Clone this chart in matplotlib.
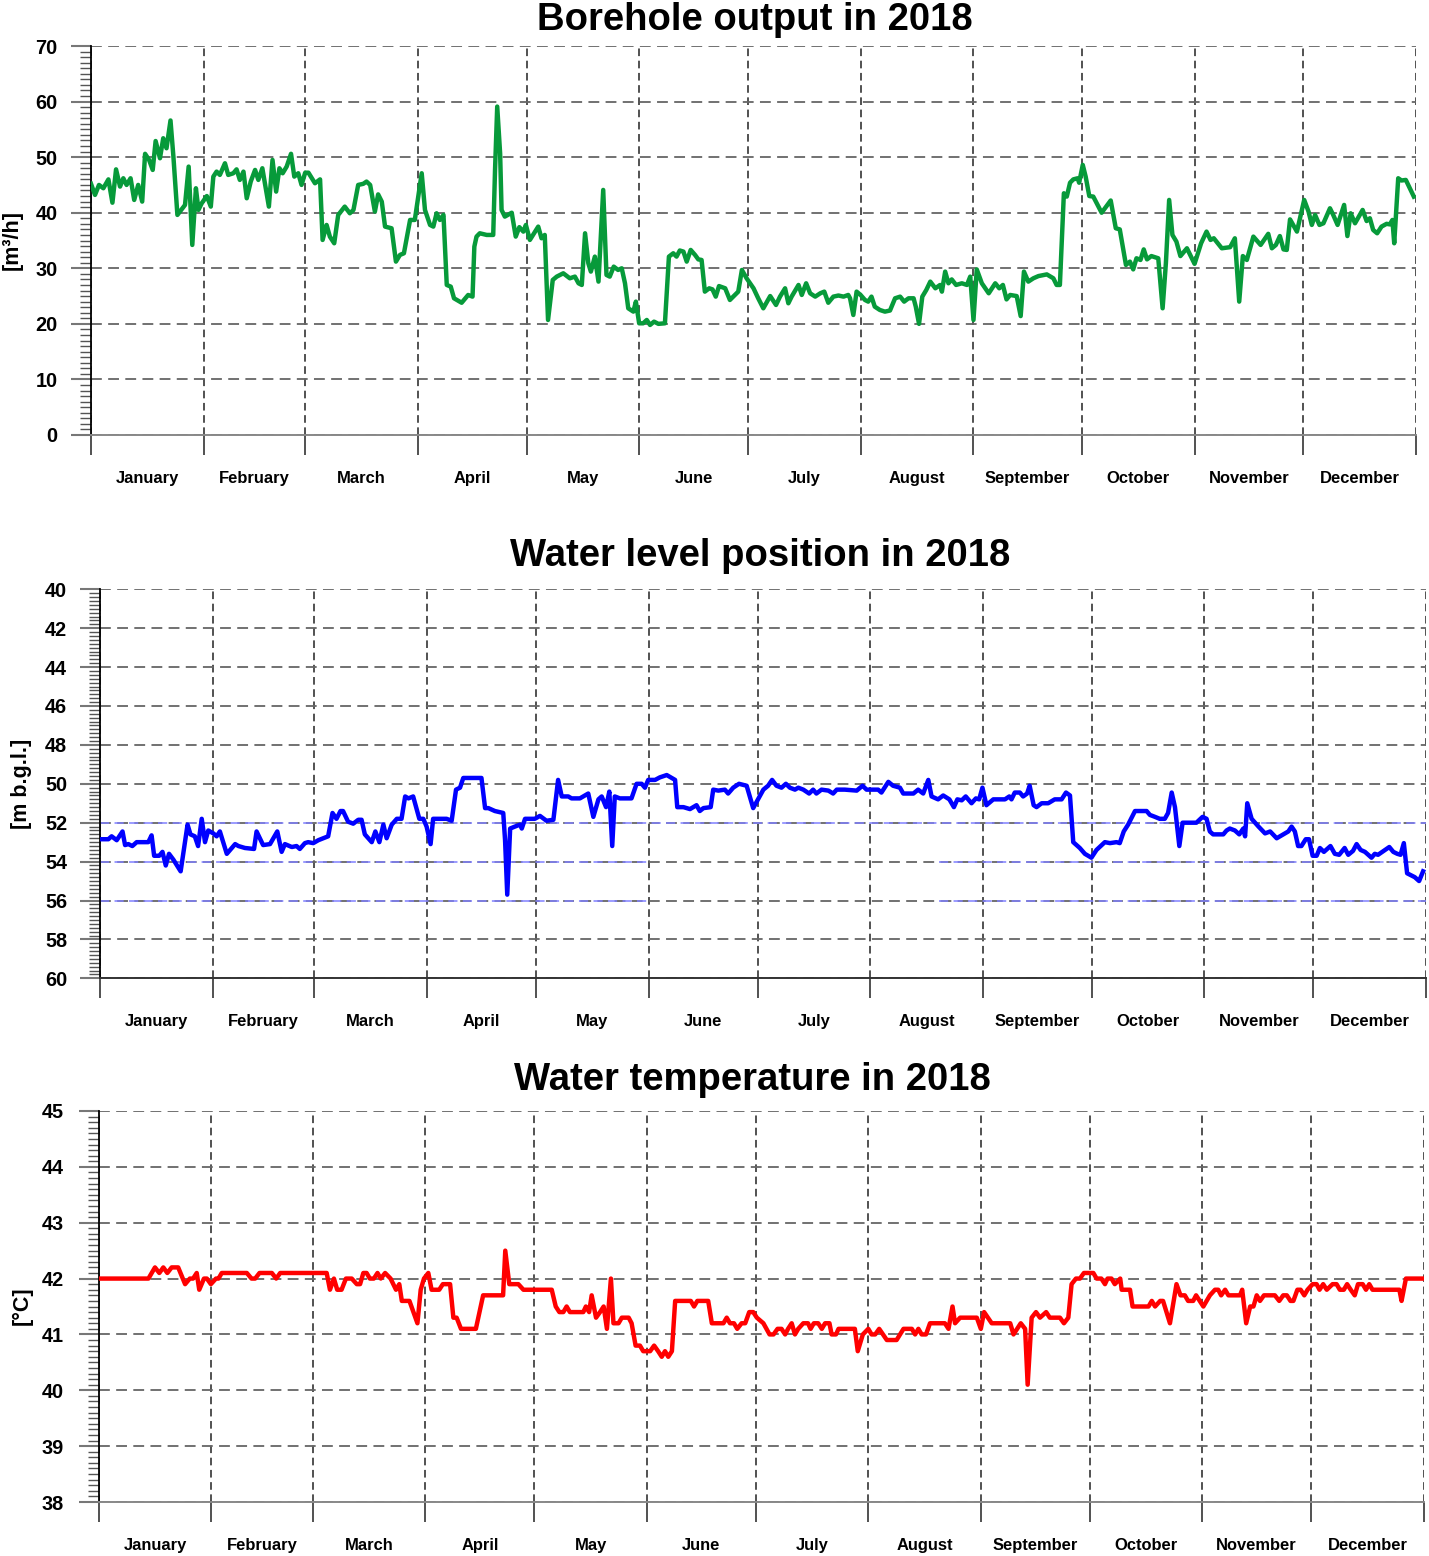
import numpy as np
import matplotlib
matplotlib.use('Agg')
import matplotlib.pyplot as plt
from matplotlib.ticker import MultipleLocator

plt.rcParams['font.family'] = ['Liberation Sans', 'DejaVu Sans']
plt.rcParams['font.weight'] = 'bold'

# ---------------- data ----------------
months = ['January', 'February', 'March', 'April', 'May', 'June', 'July',
          'August', 'September', 'October', 'November', 'December']
month_days = [31, 28, 31, 30, 31, 30, 31, 31, 30, 31, 30, 31]

# Borehole output [m3/h] (day of year, value)
output_day = [0, 1.1, 2.2, 3.4, 4.8, 5.9, 6.9, 8, 8.9, 9.8, 10.9, 11.9, 13, 14.1, 14.9, 16, 17, 17.8, 19, 19.9,
              20.8, 21.9, 22.7, 23.8, 25.9, 26.9, 27.9, 28.9, 29.6, 30.5, 31.9, 33, 33.7, 34.6, 35.5, 36.9, 37.8,
              39.2, 40.1, 41, 42, 42.9, 44, 45.2, 46.1, 47.2, 47.9, 49, 50, 51, 51.9, 52.8, 53.9, 55.1, 56, 57.1,
              58, 59, 59.9, 61.7, 63.1, 63.8, 64.9, 65.8, 67, 68.1, 69.9, 71.3, 72.3, 73.6, 75, 75.9, 76.9, 78.2,
              79.1, 80.1, 81, 82.8, 84, 85.1, 86.2, 87.9, 89.2, 91.1, 92, 93.4, 94.3, 95.2, 96.1, 97.1, 98, 99.1,
              100, 102.1, 103.9, 105.1, 105.6, 106.2, 107.1, 109, 110.8, 111.3, 111.9, 112.7, 113.1, 114, 115.9,
              117, 118, 119.1, 119.8, 120.9, 123.2, 124.1, 125, 125.9, 127.2, 128.3, 130.1, 131.9, 133.3, 134.3,
              135.2, 136.1, 137, 137.7, 138.8, 139.8, 140.4, 141.1, 142, 142.9, 144, 145.2, 146.2, 147.1, 148,
              149.4, 150.1, 151, 152.1, 153.1, 154, 155.1, 156.3, 158.1, 159.2, 160.4, 161.3, 162.2, 163.2, 164.1,
              165.2, 166.4, 167.3, 168.2, 169.1, 170.3, 171.2, 172.1, 173, 174.7, 176, 177.4, 178.3, 179.3, 180.6,
              182.5, 183.8, 185.2, 187.1, 188.7, 189.8, 191.2, 192.1, 193, 194.9, 195.8, 197, 198.1, 199.5, 200.9,
              202, 203.1, 204.5, 205.9, 207.3, 208.6, 209.1, 210, 210.9, 212, 213.2, 214.1, 215, 215.9, 217.3,
              218.7, 220.1, 221.5, 222.9, 224, 225.2, 226.6, 227.2, 228.1, 229, 230.1, 231.2, 232.6, 233.9, 234.4,
              235.3, 236.2, 237.1, 238.3, 239.9, 241.3, 242.2, 243.1, 244, 245.4, 247.3, 249.1, 250.2, 251.2,
              252.2, 253.2, 255, 256.1, 257, 258.2, 259.6, 261, 263.3, 265.1, 266, 266.9, 268, 268.8, 269.7,
              270.6, 271.8, 272.2, 273.2, 274, 275, 276.1, 278.4, 280.9, 282.3, 283.4, 285.1, 286.2, 287.1, 288,
              289.1, 290, 290.9, 292.1, 294, 295.2, 296.1, 297, 297.9, 299, 300.1, 301.9, 304, 305.8, 307.3,
              308.4, 309.3, 311.5, 313.8, 315.1, 316.3, 317.3, 318.4, 320.2, 322.2, 324.3, 325.3, 326.4, 327.5,
              328.5, 329.4, 330.3, 332.2, 334.2, 335.4, 336.3, 337.2, 338.4, 339.5, 341.3, 342.2, 343.4, 345.2,
              346.1, 347, 348.2, 350.3, 351.4, 352.3, 353.2, 354.3, 355.5, 356.9, 357.8, 358.5, 359, 360.1, 361,
              362.2, 363.3, 364.4]
output_m3h = [45.2, 43.2, 45, 44.4, 46, 41.8, 47.8, 44.7, 46.2, 45, 46.2, 42.3, 45, 42, 50.6, 49.5, 47.7, 52.9, 49.8,
              53.4, 51.6, 56.6, 50.1, 39.6, 41.4, 48.3, 34.2, 44.4, 40.5, 41.7, 43, 41.1, 46.5, 47.4, 46.8, 48.9,
              46.8, 47.1, 47.8, 45.9, 47.4, 42.6, 45.6, 47.7, 45.9, 48, 45.3, 41.1, 49.5, 43.8, 48, 47.1, 48.3,
              50.6, 46.5, 47.1, 45, 47.2, 47.2, 45.3, 46, 35.1, 37.8, 35.7, 34.5, 39.6, 41.1, 39.9, 40.5, 45, 45.2,
              45.6, 45, 40.2, 43.3, 42, 37.5, 37.2, 31.2, 32.4, 32.7, 38.7, 38.7, 47.1, 40.5, 37.8, 37.5, 39.9, 38.7,
              39.6, 27, 26.7, 24.6, 23.8, 25.2, 24.9, 33.9, 35.7, 36.3, 36, 36, 47.7, 59.1, 50.7, 40.5, 39.3, 40,
              35.7, 37.4, 36.6, 37.8, 35.1, 37.5, 35.4, 36, 20.7, 27.9, 28.5, 29.1, 28.2, 28.5, 27.3, 27, 36.3, 30.9,
              29.4, 32.1, 27.6, 35.1, 44.1, 28.8, 28.5, 30.3, 29.7, 30, 27.3, 22.8, 22.2, 24, 20.1, 20.1, 20.7, 19.8,
              20.4, 20, 20.1, 32.1, 32.7, 32.1, 33.2, 33, 31.2, 33.3, 32.4, 31.6, 31.5, 25.8, 26.4, 26.2, 24.9, 26.8,
              26.4, 24.3, 25.2, 25.8, 29.7, 28.2, 26.4, 24.6, 22.8, 25, 23.4, 24.9, 26.4, 23.7, 24.9, 27, 25.2,
              27.3, 25.5, 24.9, 25.5, 25.8, 23.8, 24.9, 25.1, 24.9, 25.2, 24.6, 21.6, 25.8, 25.2, 24.3, 24, 24.9,
              23.1, 22.5, 22.2, 22.4, 24.6, 24.9, 24, 24.6, 24.6, 23.1, 20, 24.9, 26.1, 27.6, 26.4, 27, 25.8, 29.4,
              27.3, 28, 27, 27.3, 27, 28.5, 20.7, 29.8, 27.3, 25.5, 27.3, 26.4, 27, 24.4, 25.2, 25, 21.4, 29.4,
              27.6, 28.2, 28.6, 28.9, 28.2, 27, 27, 43.5, 42.9, 45.4, 46, 46.2, 45.4, 48.6, 46.5, 43, 42.9, 40, 42.2,
              37.2, 37, 30.6, 31.2, 29.8, 31.8, 31.5, 33.4, 31.6, 32.2, 31.8, 22.8, 30.9, 42.3, 36, 34.8, 32.2,
              33.6, 30.8, 34.5, 36.6, 35.1, 35.4, 33.6, 33.8, 35.4, 24, 32.2, 31.5, 35.7, 34.2, 36.2, 33.6, 34.2,
              35.8, 33.4, 33.3, 38.8, 36.6, 42.3, 40.2, 37.8, 39.6, 37.8, 38.1, 40.8, 39.6, 37.8, 41.4, 35.8, 39.9,
              38.1, 40.5, 38.5, 39, 36.9, 36.3, 37.5, 38, 37.9, 38.7, 34.5, 46.2, 45.8, 45.9, 44.4, 42.9]

# Water level position [m b.g.l.]
level_day = [0, 2.3, 3.2, 4.6, 6.2, 6.9, 7.8, 8.9, 10.1, 13.3, 14.2, 14.9, 16.3, 17.2, 18.1, 19, 20.2, 22.2, 24.1,
             24.9, 26.1, 27, 28, 28.9, 29.8, 31.2, 32.1, 33, 34.9, 37.2, 38.1, 39.9, 42.4, 43.1, 44.9, 46.8, 48.8,
             50, 50.9, 52.8, 54.1, 55, 56.4, 57.3, 58.7, 60.1, 62.8, 64, 65.1, 66.2, 66.9, 68.3, 69.7, 71.1, 72,
             72.9, 74.8, 75.8, 76.9, 78, 78.9, 80.3, 81.7, 83, 84, 84.9, 86.2, 87.9, 89, 89.9, 91, 91.7, 95.4, 96.8,
             98, 99.1, 100, 105, 106, 106.9, 108.7, 111, 111.5, 112.1, 112.9, 114.2, 115.6, 116.1, 117, 119.7,
             121.1, 122.9, 124.8, 126.1, 127.1, 128.9, 129.8, 132.1, 134.4, 135.8, 137.2, 138.1, 139.3, 140.2, 141,
             141.7, 143.1, 146.3, 147.7, 149.1, 150, 150.9, 152.8, 154.1, 156, 158.3, 158.9, 160.6, 162.4, 163.3,
             164.2, 165.1, 166.1, 168.1, 168.8, 170.2, 172, 172.9, 174.3, 175.9, 178, 179.8, 182.6, 183.9, 185,
             186.2, 187.6, 188.8, 189.9, 191.3, 192.2, 193.6, 195.2, 196.3, 197.2, 198.6, 200.5, 201.8, 202.8, 205,
             208.3, 209.9, 211, 214.2, 215.1, 217, 218.3, 220.2, 221.1, 223.9, 225.2, 226.6, 228, 228.9, 230.7,
             232.1, 233.8, 235.05, 236, 237.2, 238.3, 239.9, 241.1, 242, 242.9, 244, 245.9, 249.1, 250.3, 250.9,
             251.8, 253.2, 254.1, 255.2, 255.9, 257, 257.8, 259.2, 261, 262.8, 264.7, 265.9, 267, 267.9, 269.7,
             271.1, 272.9, 274.3, 276.6, 278, 279.8, 280.7, 281.8, 283, 284.9, 288.1, 289, 290.4, 291.7, 293.1,
             294, 295, 295.9, 297.1, 298, 301.8, 303.5, 304.6, 305.5, 306.4, 309.2, 310.1, 311, 312.4, 313.6,
             314.7, 315.2, 315.8, 317, 318.9, 320.7, 322.1, 323.9, 325.7, 327.1, 328, 328.9, 329.8, 330.7, 331.9,
             332.8, 333.8, 334.9, 335.8, 336.9, 338.7, 339.9, 341.1, 342.6, 343.6, 344.9, 345.9, 347, 348.2, 350,
             350.9, 351.8, 354.9, 356, 357.1, 358, 358.9, 359.8, 361.9, 363.1, 364.2]
level_m = [52.85, 52.85, 52.7, 52.9, 52.45, 53.15, 53.1, 53.2, 53, 53, 52.65, 53.7, 53.7, 53.5, 54.2, 53.6, 53.9,
           54.5, 52.1, 52.6, 52.7, 53.2, 51.8, 53, 52.4, 52.55, 52.7, 52.45, 53.6, 53.1, 53.2, 53.3, 53.35, 52.45,
           53.15, 53.1, 52.45, 53.5, 53.1, 53.25, 53.2, 53.35, 53.05, 53, 53.05, 52.9, 52.7, 51.5, 51.8, 51.4,
           51.4, 51.95, 52.05, 51.85, 51.85, 52.6, 53, 52.45, 53, 52.1, 52.8, 52.1, 51.8, 51.8, 50.65, 50.75,
           50.65, 51.8, 51.8, 52.2, 53.1, 51.8, 51.8, 51.9, 50.3, 50.2, 49.7, 49.7, 51.25, 51.25, 51.4, 51.5,
           52.9, 55.7, 52.3, 52.2, 52.1, 52.3, 51.8, 51.8, 51.65, 51.9, 51.85, 49.8, 50.65, 50.65, 50.75, 50.75,
           50.5, 51.7, 50.8, 50.65, 51.2, 50.4, 53.2, 50.65, 50.75, 50.75, 50, 50, 50.2, 49.8, 49.8, 49.67,
           49.55, 49.8, 51.2, 51.2, 51.3, 51.2, 51.1, 51.4, 51.25, 51.2, 50.3, 50.35, 50.3, 50.5, 50.2, 50, 50.1,
           51.25, 50.3, 50.1, 49.8, 50.1, 50.2, 50, 50.2, 50.3, 50.2, 50.3, 50.5, 50.3, 50.5, 50.3, 50.35, 50.5,
           50.3, 50.3, 50.35, 50.1, 50.3, 50.3, 50.45, 49.9, 50.1, 50.2, 50.5, 50.5, 50.3, 50.5, 49.8, 50.65,
           50.8, 50.6, 50.8, 51.2, 50.8, 50.85, 50.65, 51, 50.75, 50.8, 50.2, 51.1, 50.8, 50.8, 50.65, 50.8,
           50.45, 50.45, 50.65, 50.5, 50.1, 51.1, 51.2, 51, 51, 50.8, 50.8, 50.45, 50.6, 53, 53.3, 53.6, 53.8,
           53.4, 53, 53.05, 53, 53.05, 52.45, 52.1, 51.4, 51.4, 51.6, 51.7, 51.8, 51.8, 51.5, 50.45, 51.2, 53.2,
           52, 52, 51.7, 51.8, 52.45, 52.6, 52.6, 52.4, 52.3, 52.4, 52.6, 52.3, 52.7, 51, 51.8, 52.2, 52.55,
           52.45, 52.8, 52.6, 52.45, 52.2, 52.45, 53.2, 53.2, 52.85, 52.85, 53.7, 53.7, 53.3, 53.5, 53.2, 53.6,
           53.65, 53.3, 53.65, 53.45, 53.1, 53.4, 53.5, 53.8, 53.6, 53.65, 53.25, 53.5, 53.6, 53.65, 53.05, 54.6,
           54.8, 55, 54.5]

# Water temperature [deg C]
temp_day = [0, 13.7, 15.5, 16.7, 17.8, 18.9, 20.1, 21.9, 23.8, 25.1, 26, 27, 27.7, 29, 29.8, 30.9, 32.3, 33, 33.9,
            40.8, 42.1, 43.1, 44.3, 47.7, 48.9, 50, 62.8, 63.7, 64.8, 65.7, 66.9, 68.1, 69.7, 71.1, 72, 72.9, 73.8,
            74.7, 75.8, 76.8, 77.7, 78.9, 80.4, 81.9, 82.8, 83.5, 85.6, 86.7, 87.8, 88.7, 89.6, 90.8, 91.7, 93.8,
            94.8, 96.8, 97.7, 98.6, 99.8, 103.9, 105.9, 111.4, 112, 113.1, 115.6, 117, 124.8, 125.9, 126.9, 128,
            128.9, 129.8, 133.5, 134.2, 135.1, 135.8, 137, 138.1, 139.1, 140, 141.1, 141.8, 143.2, 144.1, 146,
            146.8, 147.9, 149.1, 150, 151.9, 153, 154.1, 155.1, 156, 156.9, 157.9, 158.8, 163.1, 164, 164.9,
            167.9, 168.9, 172.1, 173, 173.9, 175, 175.9, 177.1, 178.1, 179.2, 180.3, 181.3, 183.1, 184.8, 185.9,
            187, 188.1, 189.1, 189.9, 190.9, 191.8, 192.7, 194.1, 195.4, 196.1, 197, 198.2, 199.2, 200.1, 201.3,
            201.9, 203.1, 203.8, 208.3, 209.1, 210.5, 212, 212.9, 213.9, 215, 217.1, 219.8, 221.7, 224, 224.9,
            225.8, 226.7, 227.9, 229, 233.1, 234.1, 235.2, 235.9, 237.3, 241.9, 243, 243.9, 246, 251.1, 252, 254,
            255.2, 255.9, 257, 258.2, 259.3, 261, 262, 264.8, 265.9, 267.1, 268, 269.2, 270.3, 271.4, 274, 274.9,
            276.2, 277.2, 277.9, 279, 279.9, 281.4, 281.8, 284.1, 284.8, 289.2, 290.1, 291, 292.4, 293.2, 295.1,
            296.9, 298, 299.2, 300.1, 301.5, 302.3, 304.3, 306.1, 307.5, 308.4, 309.2, 310.3, 311.2, 314.4, 315,
            316.1, 317.2, 318.1, 319, 319.9, 321, 324, 325.2, 326.3, 327.3, 328.3, 329.1, 330.2, 331.1, 332.1, 333,
            334.4, 335.5, 336.3, 337.3, 338.3, 339.9, 341, 341.9, 343, 343.9, 344.9, 346, 346.9, 348.2, 349.1, 350,
            350.9, 358.3, 358.9, 360.1, 364.7]
temp_c = [42.0, 42.0, 42.2, 42.1, 42.2, 42.1, 42.2, 42.2, 41.9, 42.0, 42.0, 42.1, 41.8, 42.0, 42.0, 41.9, 42.0,
          42.0, 42.1, 42.1, 42.0, 42.0, 42.1, 42.1, 42.0, 42.1, 42.1, 41.8, 42.0, 41.8, 41.8, 42.0, 42.0, 41.9,
          41.9, 42.1, 42.1, 42.0, 42.0, 42.1, 42.0, 42.1, 42.0, 41.8, 41.9, 41.6, 41.6, 41.4, 41.2, 41.8, 42.0,
          42.1, 41.8, 41.8, 41.9, 41.9, 41.3, 41.3, 41.1, 41.1, 41.7, 41.7, 42.5, 41.9, 41.9, 41.8, 41.8, 41.5,
          41.4, 41.4, 41.5, 41.4, 41.4, 41.5, 41.4, 41.7, 41.3, 41.4, 41.5, 41.1, 42.0, 41.2, 41.2, 41.3, 41.3,
          41.2, 40.8, 40.8, 40.7, 40.7, 40.8, 40.7, 40.6, 40.7, 40.6, 40.7, 41.6, 41.6, 41.5, 41.6, 41.6, 41.2,
          41.2, 41.3, 41.2, 41.2, 41.1, 41.2, 41.2, 41.4, 41.4, 41.3, 41.2, 41.0, 41.0, 41.1, 41.1, 41.0, 41.1,
          41.2, 41.0, 41.1, 41.2, 41.2, 41.1, 41.2, 41.2, 41.1, 41.2, 41.2, 41.0, 41.0, 41.1, 41.1, 40.7, 41.0,
          41.1, 41.0, 41.0, 41.1, 40.9, 40.9, 41.1, 41.1, 41.0, 41.1, 41.0, 41.0, 41.2, 41.2, 41.1, 41.5, 41.2,
          41.3, 41.3, 41.1, 41.4, 41.2, 41.2, 41.0, 41.2, 41.1, 40.1, 41.3, 41.4, 41.3, 41.4, 41.3, 41.3, 41.2,
          41.3, 41.9, 42.0, 42.0, 42.1, 42.1, 42.0, 42.0, 41.9, 42.0, 42.0, 41.9, 42.0, 41.8, 41.8, 41.5, 41.5,
          41.6, 41.5, 41.6, 41.6, 41.2, 41.9, 41.7, 41.7, 41.6, 41.6, 41.7, 41.5, 41.7, 41.8, 41.8, 41.7, 41.8,
          41.7, 41.7, 41.8, 41.2, 41.5, 41.5, 41.7, 41.6, 41.7, 41.7, 41.6, 41.7, 41.7, 41.6, 41.6, 41.8, 41.8,
          41.7, 41.8, 41.9, 41.9, 41.8, 41.9, 41.8, 41.9, 41.9, 41.8, 41.8, 41.9, 41.8, 41.7, 41.9, 41.9, 41.8,
          41.9, 41.8, 41.8, 41.6, 42.0, 42.0]

# ---------------- figure ----------------
W, H = 1429, 1556
fig = plt.figure(figsize=(W / 100, H / 100), dpi=100)

bounds = np.concatenate([[0], np.cumsum(month_days)])
mids = (bounds[:-1] + bounds[1:]) / 2.0


def rect(x0, x1, ytop, ybot):
    return [x0 / W, 1 - ybot / H, (x1 - x0) / W, (ybot - ytop) / H]


def panel(r, days, vals, color, ylim, yticks, minor, ypad, bottom_color):
    ax = fig.add_axes(r)
    ax.set_xlim(0, 365)
    ax.set_ylim(*ylim)
    ax.spines['top'].set_visible(False)
    ax.spines['right'].set_visible(False)
    ax.spines['left'].set_color('black')
    ax.spines['left'].set_linewidth(1.3)
    ax.spines['bottom'].set_color(bottom_color)
    ax.spines['bottom'].set_linewidth(1.4)
    ax.set_xticks(bounds)
    ax.set_xticklabels([])
    ax.set_xticks(mids, minor=True)
    ax.set_xticklabels(months, minor=True)
    ax.tick_params(axis='x', which='major', length=14.4, width=1.2, color='#333333', direction='out')
    ax.tick_params(axis='x', which='minor', length=0, pad=26, labelsize=11.9)
    ax.set_yticks(yticks)
    ax.set_yticklabels([str(t) for t in yticks])
    ax.yaxis.set_minor_locator(MultipleLocator(minor))
    ax.tick_params(axis='y', which='major', length=14.4, width=1.5, color='#777777',
                   pad=ypad, labelsize=14.3)
    ax.tick_params(axis='y', which='minor', length=8, width=1.0, color='#555555')
    ax.grid(axis='x', which='major', color='#222222', linestyle=(0, (5, 3)), linewidth=1.1)
    ax.grid(axis='y', which='major', color='#666666', linestyle=(0, (6, 3.5)), linewidth=1.3)
    ax.plot(days, vals, color=color, linewidth=3.2, solid_joinstyle='round', zorder=3)
    for lab in ax.get_xticklabels(minor=True) + ax.get_yticklabels():
        lab.set_fontweight('bold')
    return ax


# Panel 1: borehole output
ax1 = panel(rect(91, 1416, 46, 435), output_day, output_m3h, '#079A3A', (0, 70),
            [0, 10, 20, 30, 40, 50, 60, 70], 1, 9.5, '#888888')
fig.text(754.5 / W, 1 - 30 / H, 'Borehole output in 2018', ha='center', va='baseline',
         fontsize=27.5, fontweight='bold')
fig.text(12.5 / W, 1 - 240 / H, '[m³/h]', rotation=90, ha='center', va='center',
         fontsize=15.5, fontweight='bold')

# Panel 2: water level
ax2 = panel(rect(100, 1426, 589.3, 978.3), level_day, level_m, '#0000FF', (60, 40),
            [40, 42, 44, 46, 48, 50, 52, 54, 56, 58, 60], 0.2, 9.2, '#333333')
blue_dash = dict(colors='#8080ff', linestyles=[(0, (6, 3.5))], linewidth=1.1, zorder=2)
ax2.hlines(52, 0, 365, **blue_dash)
for yv in (54, 56):
    ax2.hlines(yv, 0, 151, **blue_dash)
    ax2.hlines(yv, 231, 365, **blue_dash)
fig.text(760 / W, 1 - 566 / H, 'Water level position in 2018', ha='center', va='baseline',
         fontsize=27.5, fontweight='bold')
fig.text(21.5 / W, 1 - 784 / H, '[m b.g.l.]', rotation=90, ha='center', va='center',
         fontsize=15.5, fontweight='bold')

# Panel 3: water temperature
ax3 = panel(rect(98.7, 1423.7, 1111, 1502), temp_day, temp_c, '#FF0000', (38, 45),
            [38, 39, 40, 41, 42, 43, 44, 45], 0.1, 10.8, '#888888')
fig.text(752 / W, 1 - 1089.5 / H, 'Water temperature in 2018', ha='center', va='baseline',
         fontsize=27.5, fontweight='bold')
fig.text(22 / W, 1 - 1306 / H, '[°C]', rotation=90, ha='center', va='center',
         fontsize=15.5, fontweight='bold')

fig.savefig('out.png', dpi=100)
